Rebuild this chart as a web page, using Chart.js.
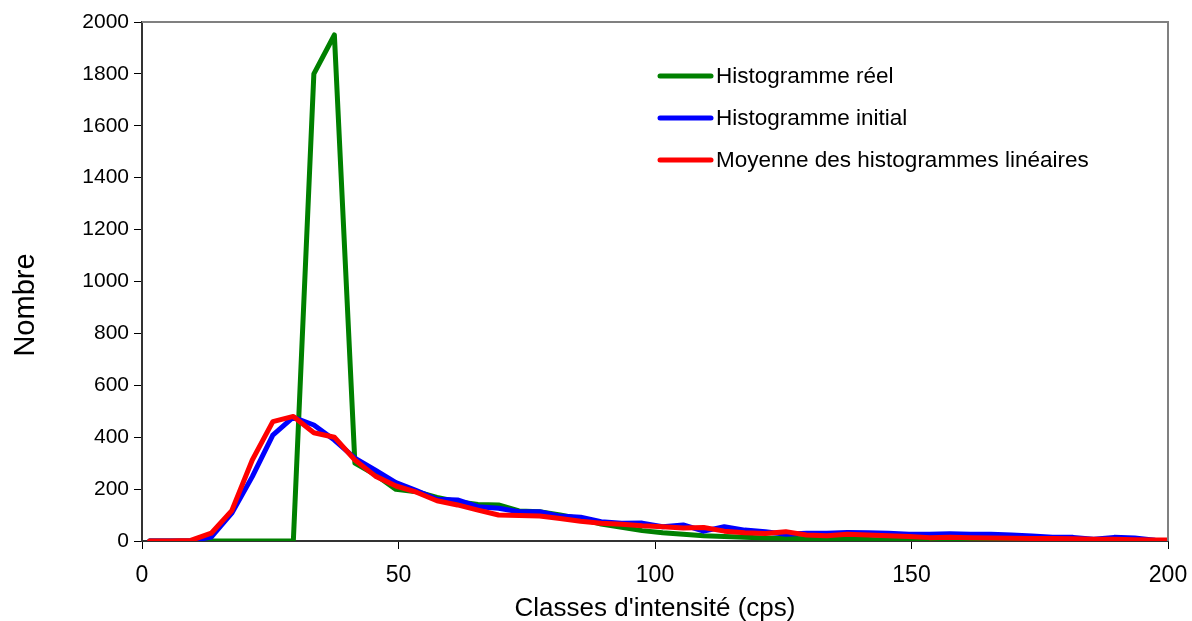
<!DOCTYPE html>
<html lang="fr">
<head>
    <meta charset="UTF-8">
    <title>Histogrammes</title>
    <script src="https://cdn.jsdelivr.net/npm/chart.js"></script>
    <style>
        body { margin: 0; background: #fff; }
        #wrap { width: 1192px; height: 621px; }
    </style>
</head>
<body>
    <div id="wrap"><canvas id="graphique" width="1192" height="621"></canvas></div>

    <script>
        // Centres des classes d'intensité (cps)
        const classes = [1.5, 5.5, 9.5, 13.5, 17.5, 21.5, 25.5, 29.5, 33.5, 37.5,
            41.5, 45.5, 49.5, 53.5, 57.5, 61.5, 65.5, 69.5, 73.5, 77.5,
            81.5, 85.5, 89.5, 93.5, 97.5, 101.5, 105.5, 109.5, 113.5, 117.5,
            121.5, 125.5, 129.5, 133.5, 137.5, 141.5, 145.5, 149.5, 153.5, 157.5,
            161.5, 165.5, 169.5, 173.5, 177.5, 181.5, 185.5, 189.5, 193.5, 197.5, 201.5];

        const histReel = [0, 0, 0, 0, 0, 0, 0, 0, 1800, 1950,
            300, 255, 199, 190, 168, 151, 141, 139, 116, 113,
            100, 85, 65, 53, 40, 32, 26, 20, 17, 14,
            12, 11, 9, 7, 7, 6, 4, 4, 3, 3,
            2, 2, 2, 2, 2, 2, 1, 1, 1, 1, 1];

        const histInitial = [0, 0, 0, 15, 107, 248, 408, 477, 447, 389,
            319, 273, 225, 194, 161, 158, 132, 126, 113, 113,
            96, 92, 74, 68, 69, 55, 62, 38, 55, 42,
            36, 26, 30, 30, 33, 32, 30, 26, 26, 28,
            26, 26, 23, 19, 14, 14, 7, 14, 12, 3, 2];

        const moyenneLineaires = [0, 0, 2, 30, 117, 312, 460, 480, 417, 400,
            312, 250, 212, 188, 155, 139, 119, 100, 98, 96,
            87, 76, 68, 65, 59, 55, 50, 52, 38, 32,
            29, 36, 23, 20, 26, 23, 20, 17, 13, 14,
            13, 12, 11, 10, 10, 9, 7, 7, 5, 4, 4];

        const series = [
            { label: 'Histogramme réel', valeurs: histReel, couleur: '#008000', ordre: 3 },
            { label: 'Histogramme initial', valeurs: histInitial, couleur: '#0000ff', ordre: 2 },
            { label: 'Moyenne des histogrammes linéaires', valeurs: moyenneLineaires, couleur: '#ff0000', ordre: 1 }
        ];

        const police = "Arial, 'Liberation Sans', sans-serif";

        // Cadre (haut et droite gris), titre vertical et légende dans la zone de tracé
        const cadreEtLegende = {
            id: 'cadreEtLegende',
            afterDraw(chart) {
                const ctx = chart.ctx;
                const a = chart.chartArea;
                ctx.save();
                ctx.strokeStyle = '#808080';
                ctx.lineWidth = 2;
                ctx.beginPath();
                ctx.moveTo(a.left, a.top);
                ctx.lineTo(a.right, a.top);
                ctx.lineTo(a.right, a.bottom);
                ctx.stroke();

                // titre de l'axe vertical
                ctx.save();
                ctx.translate(26, 305);
                ctx.rotate(-Math.PI / 2);
                ctx.font = '29px ' + police;
                ctx.fillStyle = '#000';
                ctx.textAlign = 'center';
                ctx.textBaseline = 'middle';
                ctx.fillText('Nombre', 0, 0);
                ctx.restore();

                ctx.font = '22.5px ' + police;
                ctx.textBaseline = 'middle';
                ctx.fillStyle = '#000';
                ctx.lineCap = 'round';
                chart.data.datasets.forEach((ds, i) => {
                    const y = 76 + i * 42;
                    ctx.strokeStyle = ds.borderColor;
                    ctx.lineWidth = 5;
                    ctx.beginPath();
                    ctx.moveTo(660, y);
                    ctx.lineTo(711, y);
                    ctx.stroke();
                    ctx.fillText(ds.label, 716, y + 1);
                });
                ctx.restore();
            }
        };

        new Chart(document.getElementById('graphique'), {
            type: 'line',
            data: {
                datasets: series.map(s => ({
                    label: s.label,
                    data: classes.map((c, i) => ({ x: c, y: s.valeurs[i] })),
                    borderColor: s.couleur,
                    backgroundColor: s.couleur,
                    borderWidth: 5,
                    borderJoinStyle: 'round',
                    borderCapStyle: 'round',
                    pointRadius: 0,
                    tension: 0,
                    fill: false,
                    order: s.ordre
                }))
            },
            options: {
                responsive: false,
                animation: false,
                layout: { padding: { top: 22, right: 24, left: 0, bottom: 0 } },
                plugins: {
                    legend: { display: false },
                    tooltip: { enabled: false }
                },
                scales: {
                    x: {
                        type: 'linear',
                        min: 0,
                        max: 200,
                        afterFit: s => {
                            s.height = 80;
                            s.paddingLeft = 0;
                            s.paddingRight = 0;
                        },
                        ticks: {
                            stepSize: 50,
                            color: '#000',
                            padding: 13,
                            maxRotation: 0,
                            font: { family: police, size: 23 }
                        },
                        grid: { drawOnChartArea: false, drawTicks: true, tickLength: 8, color: '#000', lineWidth: 1 },
                        border: { color: '#333', width: 2 },
                        title: {
                            display: true,
                            text: "Classes d'intensité (cps)",
                            color: '#000',
                            font: { family: police, size: 26 },
                            padding: { top: 0, bottom: -3 }
                        }
                    },
                    y: {
                        min: 0,
                        max: 2000,
                        afterFit: s => { s.width = 142; },
                        ticks: {
                            stepSize: 200,
                            color: '#000',
                            padding: 5,
                            font: { family: police, size: 21 },
                            callback: v => String(v)
                        },
                        grid: { drawOnChartArea: false, drawTicks: true, tickLength: 8, color: '#000', lineWidth: 1 },
                        border: { color: '#333', width: 2 }
                    }
                }
            },
            plugins: [cadreEtLegende]
        });
    </script>
</body>
</html>
